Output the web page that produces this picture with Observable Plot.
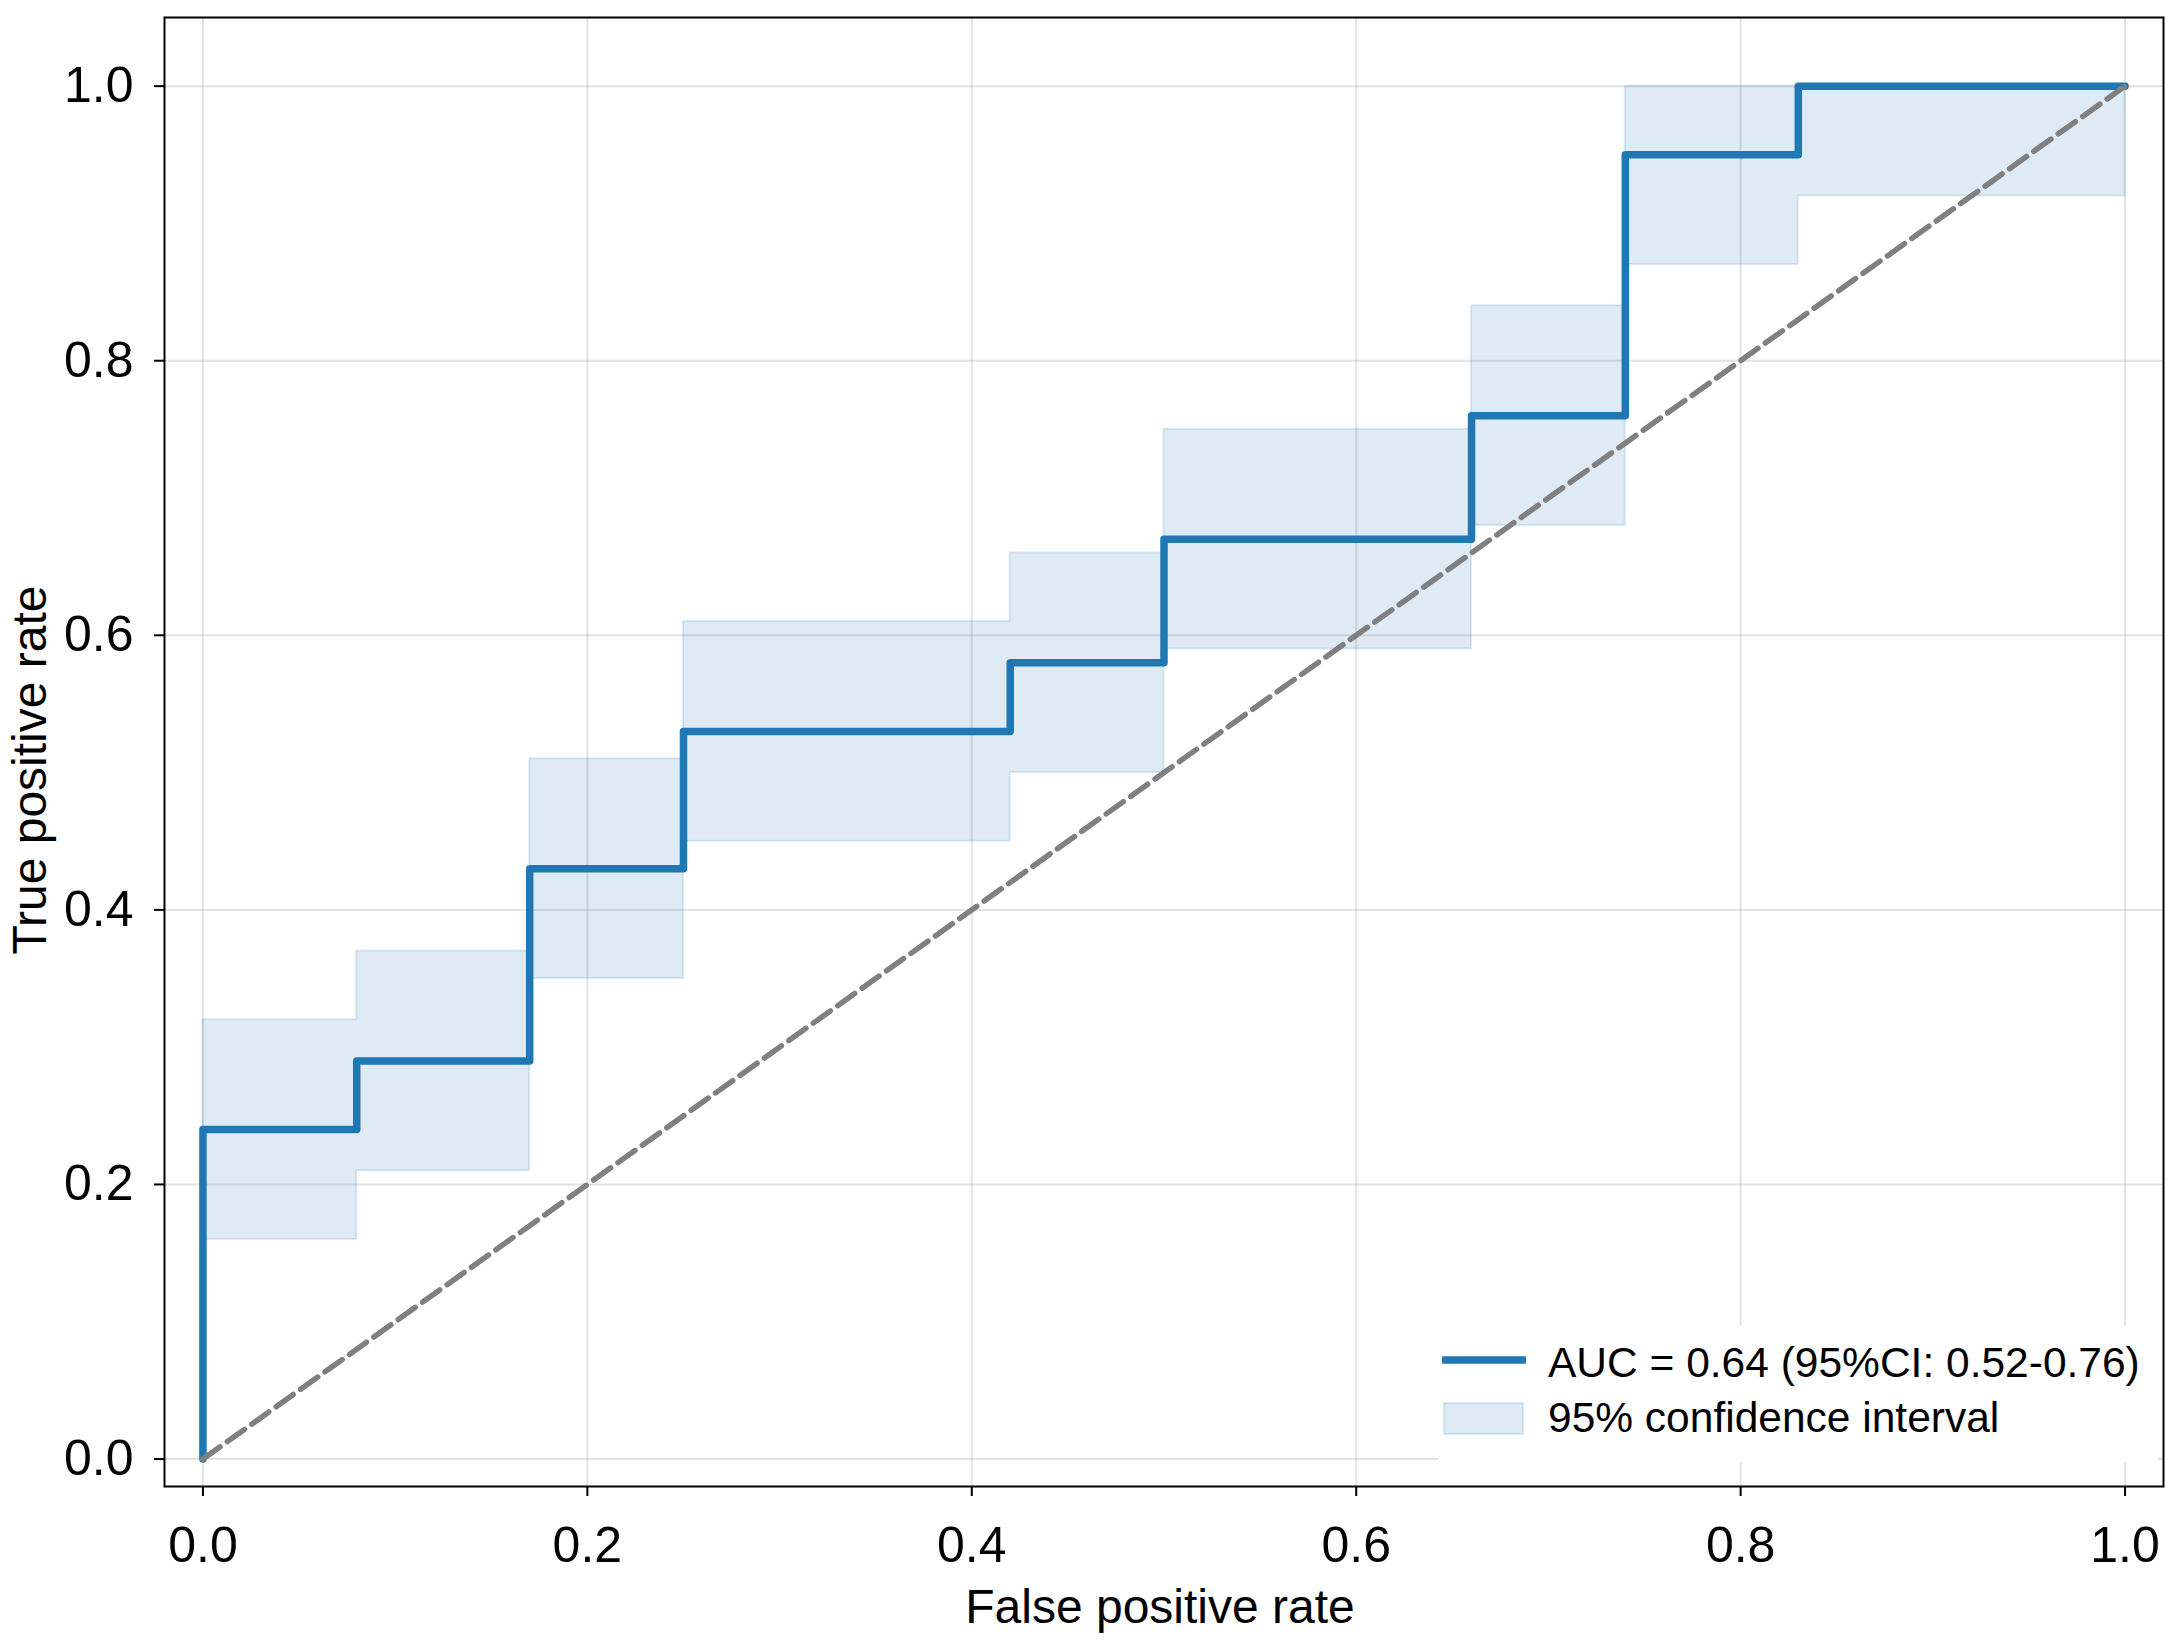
<!DOCTYPE html>
<html><head><meta charset="utf-8">
<script src="https://cdn.jsdelivr.net/npm/d3@7"></script>
<script src="https://cdn.jsdelivr.net/npm/@observablehq/plot@0.6"></script>
<style>
body{margin:0;background:#fff;}
#wrap{position:relative;width:2169px;height:1649px;}
.legend{position:absolute;left:1438px;top:1325px;width:720px;height:137px;background:#fff;}
.legend svg{display:block;}
</style>
</head><body><div id="wrap"></div>
<script>
// ROC curve (step) values
const rocFpr = [0, 0, 0.08, 0.17, 0.25, 0.42, 0.50, 0.66, 0.74, 0.83, 1.00];
const rocTpr = [0, 0.24, 0.29, 0.43, 0.53, 0.58, 0.67, 0.76, 0.95, 1.00, 1.00];
// 95% CI band (step)
const ciFpr  = [0, 0.08, 0.17, 0.25, 0.42, 0.50, 0.66, 0.74, 0.83, 1.00];
const ciLow  = [0.16, 0.21, 0.35, 0.45, 0.50, 0.59, 0.68, 0.87, 0.92, 0.92];
const ciHigh = [0.32, 0.37, 0.51, 0.61, 0.66, 0.75, 0.84, 1.00, 1.00, 1.00];
// chance diagonal
const diagX = [0, 1];
const diagY = [0, 1];
// ticks
const ticks = [0, 0.2, 0.4, 0.6, 0.8, 1.0];
const xLabel = "False positive rate";
const yLabel = "True positive rate";
const legendLabels = ["AUC = 0.64 (95%CI: 0.52-0.76)", "95% confidence interval"];

const blue = "#1f77b4";
const roc = rocFpr.map((x, i) => ({x, y: rocTpr[i]}));
const ci = ciFpr.map((x, i) => ({x, lo: ciLow[i], hi: ciHigh[i]}));
const diag = diagX.map((x, i) => ({x, y: diagY[i]}));

const font = "'Liberation Sans', Arial, sans-serif";

const chart = Plot.plot({
  width: 2169,
  height: 1649,
  marginLeft: 164,
  marginRight: 6,
  marginTop: 17,
  marginBottom: 163,
  style: {fontFamily: font, fontSize: "50px", background: "#fff"},
  x: {domain: [-0.02, 1.02]},
  y: {domain: [-0.02, 1.05]},
  marks: [
    Plot.gridX(ticks, {stroke: "#b0b0b0", strokeOpacity: 0.35, strokeWidth: 2}),
    Plot.gridY(ticks, {stroke: "#b0b0b0", strokeOpacity: 0.35, strokeWidth: 2}),
    Plot.areaY(ci, {x: "x", y1: "lo", y2: "hi", curve: "step-after", fill: blue, fillOpacity: 0.15,
      stroke: blue, strokeOpacity: 0.15, strokeWidth: 2}),
    Plot.line(roc, {x: "x", y: "y", curve: "step-after", stroke: blue, strokeWidth: 7.5}),
    Plot.line(diag, {x: "x", y: "y", stroke: "gray", strokeWidth: 5.5, strokeDasharray: "21,9"}),
    Plot.frame({stroke: "black", strokeWidth: 2}),
    Plot.axisX(ticks, {tickSize: 10, tickPadding: 30, tickFormat: d3.format(".1f"), strokeWidth: 2,
      label: null, fill: "#000"}),
    Plot.axisY(ticks, {tickSize: 10, tickPadding: 21, tickFormat: d3.format(".1f"), strokeWidth: 2,
      label: null, fill: "#000"}),
    Plot.text([xLabel], {text: d => d, frameAnchor: "bottom", lineAnchor: "bottom", textAnchor: "middle",
      dy: 136, dx: -4, fontSize: 48, fill: "#000"}),
    Plot.text([yLabel], {text: d => d, frameAnchor: "left", lineAnchor: "bottom", textAnchor: "middle",
      rotate: -90, dx: -119, dy: 18, fontSize: 48, fill: "#000"})
  ]
});
const wrap = document.getElementById("wrap");
wrap.appendChild(chart);

const leg = document.createElement("div");
leg.className = "legend";
leg.innerHTML = `
<svg width="720" height="137" style="font-family:${font};font-size:42.5px">
  <line x1="4" x2="88" y1="35" y2="35" stroke="${blue}" stroke-width="7.5"/>
  <text x="110" y="52" fill="#000">${legendLabels[0]}</text>
  <rect x="6" y="78" width="79" height="31" fill="${blue}" fill-opacity="0.15" stroke="${blue}" stroke-opacity="0.15" stroke-width="2"/>
  <text x="110" y="107" fill="#000">${legendLabels[1]}</text>
</svg>`;
wrap.appendChild(leg);
</script>
</body></html>
